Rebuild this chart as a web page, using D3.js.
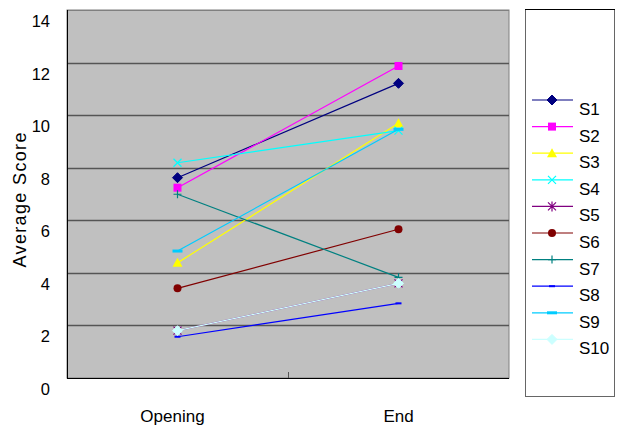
<!DOCTYPE html>
<html><head><meta charset="utf-8">
<script src="https://cdn.jsdelivr.net/npm/d3@7"></script>
<style>body{margin:0;background:#fff}svg{display:block}text{font-family:"Liberation Sans",Arial,sans-serif;fill:#000}</style>
</head><body><svg id="c" width="622" height="425"></svg>
<script>
const categories = ["Opening", "End"];
const seriesNames = ["S1","S2","S3","S4","S5","S6","S7","S8","S9","S10"];
const openingValues = [7.62, 7.24, 4.38, 8.19, 1.8, 3.41, 6.99, 1.57, 4.83, 1.8];
const endValues = [11.21, 11.87, 9.69, 9.41, 3.6, 5.66, 3.83, 2.84, 9.46, 3.6];
const colors = ["#000080","#FF00FF","#FFFF00","#00FFFF","#800080","#800000","#008080","#0000FF","#00CCFF","#CCFFFF"];
const markers = ["diamond","square","triangle","x","star","circle","plus","dashS","dashL","diamond"];
const yTicks = [0,2,4,6,8,10,12,14];

const svg = d3.select("#c");
const plot = {l:67, r:509, t:10, b:378};
const x = d3.scaleBand().domain(categories).range([plot.l, plot.r]);
const y = d3.scaleLinear().domain([0,14]).range([plot.b, plot.t]);

svg.append("rect").attr("x",plot.l).attr("y",plot.t).attr("width",plot.r-plot.l).attr("height",plot.b-plot.t)
  .attr("fill","#C0C0C0").attr("stroke","#808080").attr("stroke-width",1);

svg.append("g").selectAll("line").data(yTicks.filter(v=>v>0&&v<14)).join("line")
  .attr("x1",plot.l).attr("x2",plot.r).attr("y1",d=>Math.round(y(d))+0.5).attr("y2",d=>Math.round(y(d))+0.5)
  .attr("stroke","#555").attr("stroke-width",1.3);
svg.append("line").attr("x1",plot.l).attr("x2",plot.r).attr("y1",plot.t+0.5).attr("y2",plot.t+0.5).attr("stroke","#808080");
svg.append("line").attr("x1",plot.l+0.5).attr("x2",plot.l+0.5).attr("y1",plot.t).attr("y2",plot.b).attr("stroke","#000");
svg.append("line").attr("x1",plot.l).attr("x2",plot.r).attr("y1",plot.b+0.5).attr("y2",plot.b+0.5).attr("stroke","#000");
const mid = x(categories[1]);
svg.append("line").attr("x1",mid+0.5).attr("x2",mid+0.5).attr("y1",plot.b).attr("y2",plot.b-6).attr("stroke","#555");

svg.append("g").selectAll("text").data(yTicks).join("text")
  .attr("x",50).attr("y",d=>y(d)+11).attr("text-anchor","end").attr("dominant-baseline","central")
  .attr("font-size",16.5).text(d=>d);
svg.append("g").selectAll("text").data(categories).join("text")
  .attr("x",d=>x(d)+x.bandwidth()/2 - (d==="Opening"?5:0)).attr("y",422).attr("text-anchor","middle")
  .attr("font-size",17).text(d=>d);
svg.append("text").attr("transform","translate(26,200) rotate(-90)").attr("text-anchor","middle")
  .attr("font-size",18).attr("textLength",135).attr("lengthAdjust","spacing").text("Average Score");

function drawMarker(g, type, color, cx, cy){
  const s = 4;
  switch(type){
    case "diamond": g.append("path").attr("d",`M${cx},${cy-s-1}L${cx+s+1},${cy}L${cx},${cy+s+1}L${cx-s-1},${cy}Z`).attr("fill",color).attr("stroke",color); break;
    case "square": g.append("rect").attr("x",cx-s).attr("y",cy-s).attr("width",2*s).attr("height",2*s).attr("fill",color); break;
    case "triangle": g.append("path").attr("d",`M${cx},${cy-s-1}L${cx+s+1},${cy+s}L${cx-s-1},${cy+s}Z`).attr("fill",color); break;
    case "x": g.append("path").attr("d",`M${cx-s},${cy-s}L${cx+s},${cy+s}M${cx-s},${cy+s}L${cx+s},${cy-s}`).attr("stroke",color).attr("stroke-width",1.2); break;
    case "star": g.append("path").attr("d",`M${cx-s},${cy-s}L${cx+s},${cy+s}M${cx-s},${cy+s}L${cx+s},${cy-s}M${cx},${cy-s-1}L${cx},${cy+s+1}`).attr("stroke",color).attr("stroke-width",1.2); break;
    case "circle": g.append("circle").attr("cx",cx).attr("cy",cy).attr("r",s).attr("fill",color); break;
    case "plus": g.append("path").attr("d",`M${cx-s},${cy}L${cx+s},${cy}M${cx},${cy-s}L${cx},${cy+s}`).attr("stroke",color).attr("stroke-width",1.2); break;
    case "dashS": g.append("rect").attr("x",cx-3).attr("y",cy-1).attr("width",6).attr("height",2).attr("fill",color); break;
    case "dashL": g.append("rect").attr("x",cx-5).attr("y",cy-1.5).attr("width",10).attr("height",3).attr("fill",color); break;
  }
}

const cx0 = x(categories[0]) + x.bandwidth()/2;
const cx1 = x(categories[1]) + x.bandwidth()/2;
const lines = svg.append("g");
const marks = svg.append("g");
seriesNames.forEach((name,i)=>{
  const pts = [[cx0, y(openingValues[i])],[cx1, y(endValues[i])]];
  lines.append("path").attr("d",d3.line()(pts)).attr("stroke",colors[i]).attr("stroke-width",1.2).attr("fill","none");
});
seriesNames.forEach((name,i)=>{
  drawMarker(marks, markers[i], colors[i], cx0, y(openingValues[i]));
  drawMarker(marks, markers[i], colors[i], cx1, y(endValues[i]));
});

const lg = svg.append("g");
lg.append("rect").attr("x",525.5).attr("y",9.5).attr("width",89).attr("height",387).attr("fill","#fff").attr("stroke","#666").attr("stroke-width",1);
lg.append("line").attr("x1",525).attr("x2",615).attr("y1",9.5).attr("y2",9.5).attr("stroke","#000");
const ly = d3.scalePoint().domain(seriesNames).range([100, 339.4]);
seriesNames.forEach((name,i)=>{
  const yy = ly(name);
  lg.append("line").attr("x1",532).attr("x2",573).attr("y1",yy).attr("y2",yy).attr("stroke",colors[i]).attr("stroke-width",1.2);
  drawMarker(lg, markers[i], colors[i], 552, yy);
  lg.append("text").attr("x",579).attr("y",yy+9.5).attr("dominant-baseline","central").attr("font-size",17).text(name);
});
</script></body></html>
